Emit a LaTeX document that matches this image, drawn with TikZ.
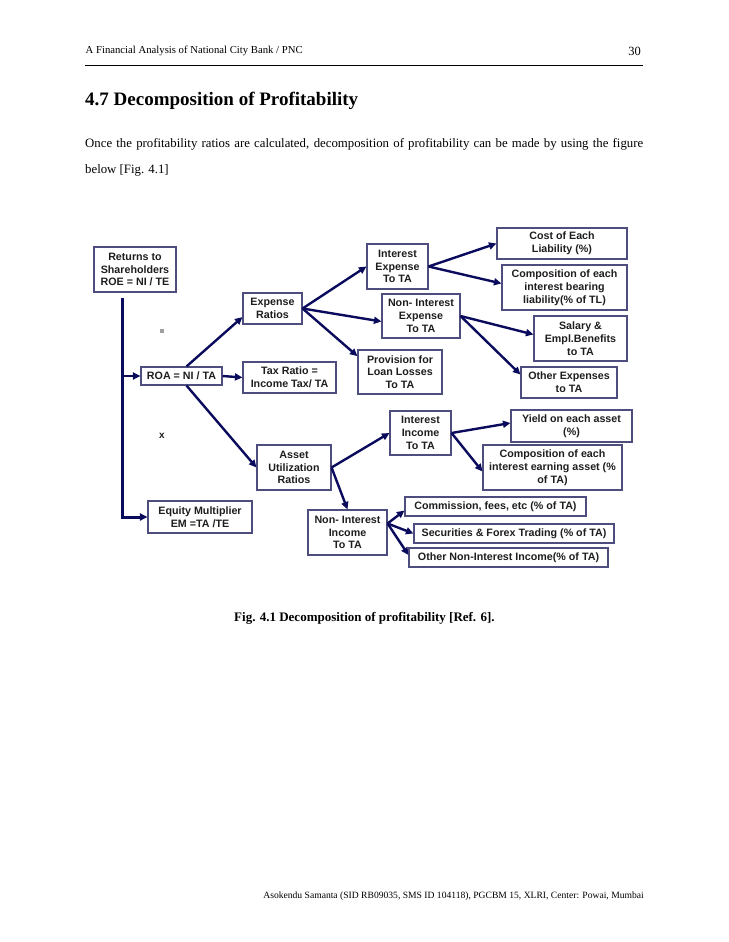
\documentclass[tikz,border=0pt]{standalone}
\usepackage{fontspec}
\setmainfont{Liberation Serif}
\newfontfamily\arialf{Liberation Sans}
\usetikzlibrary{arrows.meta,calc}
\definecolor{navy}{HTML}{0B0B5E}
\definecolor{boxc}{HTML}{4E4E7E}
\definecolor{txt}{HTML}{1E1E1E}
\begin{document}
\begin{tikzpicture}[x=1pt,y=-1pt,
  bx/.style={draw=boxc,line width=1.1pt,inner sep=0pt,align=center,text=txt,
    font=\arialf\bfseries\fontsize{10.7}{12.8}\selectfont},
  arr/.style={draw=navy,line width=2.4pt,-{Triangle[length=7.5pt,width=7pt]}},
  trunk/.style={draw=navy,line width=3pt,-{Triangle[length=7.5pt,width=7pt]}},
  pg/.style={inner sep=0pt,text=black}
]
\useasboundingbox (0,0) rectangle (728,942);
\fill[white] (0,0) rectangle (728,942);

% page text
\node[pg,anchor=base west,font=\fontsize{10.7}{12}\selectfont] (hdr) at (85.5,53.5) {A Financial Analysis of National City Bank / PNC};
\node[pg,anchor=base east,font=\fontsize{12.5}{14}\selectfont] (pnum) at (641,56) {30};
\coordinate (r0) at (85,65.5);
\coordinate (r1) at (643,65.5);
\draw[line width=1pt] (r0) -- (r1);
\node[pg,anchor=base west,font=\bfseries\fontsize{19}{22}\selectfont] (ttl) at (85,105) {4.7 Decomposition of Profitability};
\node[pg,anchor=base west,font=\fontsize{12.8}{14}\selectfont] (p1) at (85,147) {\makebox[558pt][s]{Once the profitability ratios are calculated, decomposition of profitability can be made by using the figure}};
\node[pg,anchor=base west,font=\fontsize{12.8}{14}\selectfont] (p2) at (85,173) {below [Fig. 4.1]};
\node[pg,anchor=base west,font=\bfseries\fontsize{13}{15}\selectfont] (cap) at (234,621) {Fig. 4.1 Decomposition of profitability [Ref. 6].};
\node[pg,anchor=base east,font=\fontsize{9.6}{12}\selectfont] (foot) at (644,898) {Asokendu Samanta (SID RB09035, SMS ID 104118), PGCBM 15, XLRI, Center: Powai, Mumbai};

% boxes
\node[bx,minimum width=82pt,minimum height=45pt] (ret) at (135,269.5) {Returns to\\Shareholders\\ROE = NI / TE};
\node[bx,minimum width=59pt,minimum height=31pt] (exp) at (272.5,308.5) {Expense\\Ratios};
\node[bx,minimum width=81pt,minimum height=18pt] (roa) at (181.5,376) {ROA = NI / TA};
\node[bx,minimum width=93pt,minimum height=31pt] (tax) at (289.5,377.5) {Tax Ratio =\\Income Tax/ TA};
\node[bx,minimum width=61pt,minimum height=45pt] (ie) at (397.5,266.5) {Interest\\Expense\\To TA};
\node[bx,minimum width=78pt,minimum height=44pt] (nie) at (421,316) {Non- Interest\\Expense\\To TA};
\node[bx,minimum width=84pt,minimum height=44pt] (prov) at (400,372) {Provision for\\Loan Losses\\To TA};
\node[bx,minimum width=130pt,minimum height=31pt] (cost) at (562,243.5) {Cost of Each\\Liability (\%)};
\node[bx,minimum width=125pt,minimum height=45pt] (compl) at (564.5,287.5) {Composition of each\\interest bearing\\liability(\% of TL)};
\node[bx,minimum width=93pt,minimum height=45pt] (sal) at (580.5,338.5) {Salary \&\\Empl.Benefits\\to TA};
\node[bx,minimum width=96pt,minimum height=31pt] (oth) at (569,382.5) {Other Expenses\\to TA};
\node[bx,minimum width=74pt,minimum height=45pt] (au) at (294,467.5) {Asset\\Utilization\\Ratios};
\node[bx,minimum width=104pt,minimum height=32pt] (em) at (200,517) {Equity Multiplier\\EM =TA /TE};
\node[bx,minimum width=79pt,minimum height=45pt] (nii) at (347.5,532.5) {Non- Interest\\Income\\To TA};
\node[bx,minimum width=61pt,minimum height=44pt] (ii) at (420.5,433) {Interest\\Income\\To TA};
\node[bx,minimum width=121pt,minimum height=32pt] (yld) at (571.5,426) {Yield on each asset\\(\%)};
\node[bx,minimum width=139pt,minimum height=45pt] (compa) at (552.5,467.5) {Composition of each\\interest earning asset (\%\\of TA)};
\node[bx,minimum width=181pt,minimum height=19pt] (com) at (495.5,506.5) {Commission, fees, etc (\% of TA)};
\node[bx,minimum width=200pt,minimum height=19pt] (sec) at (514,533.5) {Securities \& Forex Trading (\% of TA)};
\node[bx,minimum width=199pt,minimum height=19pt] (onii) at (508.5,557.5) {Other Non-Interest Income(\% of TA)};

% marks
\node[fill=gray!75,minimum size=4pt,inner sep=0pt] (mk) at (162,331) {};
\node[inner sep=0pt,text=txt,font=\arialf\bfseries\fontsize{10}{10}\selectfont] (xm) at (162,436) {x};

% trunk
\coordinate (t0) at (122.7,298);
\draw[trunk] (t0) |- (em.west);
\draw[arr] (t0 |- roa.west) -- (roa.west);

% connectors
\draw[arr] (roa.east) -- (tax.west);
\draw[arr] ($(roa.north)+(5,0)$) -- ($(exp.south west)+(0,-7.5)$);
\draw[arr] ($(roa.south)+(5,0)$) -- (au.west);
\draw[arr] (exp.east) -- (ie.west);
\draw[arr] (exp.east) -- ($(nie.west)+(0,5.5)$);
\draw[arr] (exp.east) -- ($(prov.north west)+(0,6.7)$);
\draw[arr] (ie.east) -- (cost.west);
\draw[arr] (ie.east) -- ($(compl.west)+(0,-4)$);
\draw[arr] (nie.east) -- ($(sal.west)+(0,-4)$);
\draw[arr] (nie.east) -- ($(oth.west)+(0,-8)$);
\draw[arr] (au.east) -- (ii.west);
\draw[arr] (au.east) -- (nii.north);
\draw[arr] (ii.east) -- ($(yld.west)+(0,-3)$);
\draw[arr] (ii.east) -- ($(compa.west)+(0,4)$);
\draw[arr] ($(nii.east)+(0,-9)$) -- ($(com.south west)+(0,-6)$);
\draw[arr] ($(nii.east)+(0,-9)$) -- (sec.west);
\draw[arr] ($(nii.east)+(0,-9)$) -- ($(onii.west)+(0,-2.5)$);
\end{tikzpicture}
\end{document}
